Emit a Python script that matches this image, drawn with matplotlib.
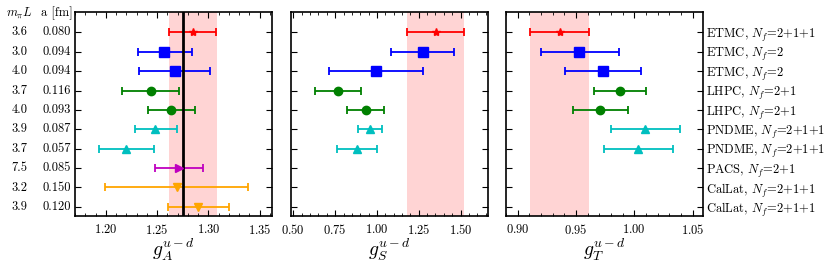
import matplotlib
matplotlib.use("Agg")
import matplotlib.pyplot as plt
import numpy as np
from matplotlib.ticker import MultipleLocator

plt.rcParams['font.family'] = 'cmr10'
plt.rcParams['mathtext.fontset'] = 'cm'
plt.rcParams['axes.formatter.use_mathtext'] = True
plt.rcParams['axes.unicode_minus'] = False

# rows (top to bottom)
collab = ['ETMC, $N_f$=2+1+1', 'ETMC, $N_f$=2', 'ETMC, $N_f$=2',
          'LHPC, $N_f$=2+1', 'LHPC, $N_f$=2+1',
          'PNDME, $N_f$=2+1+1', 'PNDME, $N_f$=2+1+1',
          'PACS, $N_f$=2+1', 'CalLat, $N_f$=2+1+1', 'CalLat, $N_f$=2+1+1']
mpiL = ['3.6', '3.0', '4.0', '3.7', '4.0', '3.9', '3.7', '7.5', '3.2', '3.9']
a_fm = ['0.080', '0.094', '0.094', '0.116', '0.093', '0.087', '0.057', '0.085', '0.150', '0.120']
colors = ['r', 'b', 'b', 'g', 'g', 'c', 'c', 'm', 'orange', 'orange']
markers = ['*', 's', 's', 'o', 'o', '^', '^', '>', 'v', 'v']

# g_A
gA = [1.285, 1.257, 1.267, 1.244, 1.264, 1.248, 1.220, 1.271, 1.269, 1.290]
gA_lo = [1.262, 1.231, 1.232, 1.216, 1.241, 1.228, 1.193, 1.248, 1.199, 1.261]
gA_hi = [1.307, 1.284, 1.302, 1.271, 1.287, 1.269, 1.247, 1.295, 1.339, 1.320]
# g_S (no PACS / CalLat)
gS = [1.352, 1.276, 0.996, 0.766, 0.932, 0.956, 0.882]
gS_lo = [1.182, 1.082, 0.716, 0.628, 0.820, 0.884, 0.762]
gS_hi = [1.522, 1.462, 1.276, 0.902, 1.044, 1.028, 1.002]
# g_T
gT = [0.936, 0.953, 0.973, 0.988, 0.971, 1.0095, 1.003]
gT_lo = [0.911, 0.920, 0.941, 0.9655, 0.9475, 0.980, 0.974]
gT_hi = [0.961, 0.987, 1.0055, 1.010, 0.995, 1.039, 1.033]

gA_exp = 1.2754
bands = [(1.262, 1.308), (1.182, 1.522), (0.911, 0.961)]

fig = plt.figure(figsize=(8.3, 2.63), dpi=100)
W, H = 830., 263.
lefts = [75, 291, 506]
axs = [fig.add_axes([l / W, 47 / H, 197 / W, 204 / H]) for l in lefts]

data = [(gA, gA_lo, gA_hi), (gS, gS_lo, gS_hi), (gT, gT_lo, gT_hi)]
xlims = [(1.17, 1.362), (0.486, 1.664), (0.89, 1.059)]
majors = [0.05, 0.25, 0.05]
minors = [0.01, 0.05, 0.01]
xlabels = [r'$g_A^{u-d}$', r'$g_S^{u-d}$', r'$g_T^{u-d}$']

y = np.arange(len(collab))
for k, ax in enumerate(axs):
    val, lo, hi = data[k]
    ax.axvspan(bands[k][0], bands[k][1], color='r', alpha=0.17, lw=0, zorder=0)
    for i in range(len(val)):
        ms = 7 if markers[i] == 's' else 6
        ax.errorbar(val[i], y[i], xerr=[[val[i] - lo[i]], [hi[i] - val[i]]],
                    fmt=markers[i], color=colors[i], ms=ms, capsize=3,
                    elinewidth=1.3, capthick=1.3)
    if k == 0:
        ax.axvline(gA_exp, color='k', lw=2)
    ax.set_xlim(xlims[k])
    ax.set_ylim(9.47, -1.05)
    ax.xaxis.set_major_locator(MultipleLocator(majors[k]))
    ax.xaxis.set_minor_locator(MultipleLocator(minors[k]))
    ax.set_yticks(y)
    ax.tick_params(which='both', direction='in', top=True, right=True,
                   labelsize=9)
    ax.tick_params(axis='y', length=4)
    ax.tick_params(axis='x', which='major', length=4, pad=5)
    ax.tick_params(axis='x', which='minor', length=2)
    ax.set_xlabel(xlabels[k], fontsize=14, labelpad=0)
    for s in ax.spines.values():
        s.set_linewidth(1.2)
    if k == 2:
        ax.set_yticklabels(collab)
        ax.tick_params(axis='y', labelleft=False, labelright=True, pad=2)
    else:
        ax.set_yticklabels([])

# left table of m_pi L and a
ax = axs[0]
tr = ax.get_yaxis_transform()
x1 = (19.5 - 75) / 197.
x2 = (57 - 75) / 197.
for i in range(len(mpiL)):
    ax.text(x1, y[i], mpiL[i], transform=tr, ha='center', va='center', fontsize=9)
    ax.text(x2, y[i], a_fm[i], transform=tr, ha='center', va='center', fontsize=9)
ax.text(x1, -1.0, r'$m_\pi L$', transform=tr, ha='center', va='center', fontsize=9)
ax.text(x2, -1.0, 'a [fm]', transform=tr, ha='center', va='center', fontsize=9)

fig.savefig('out.png', dpi=100)
